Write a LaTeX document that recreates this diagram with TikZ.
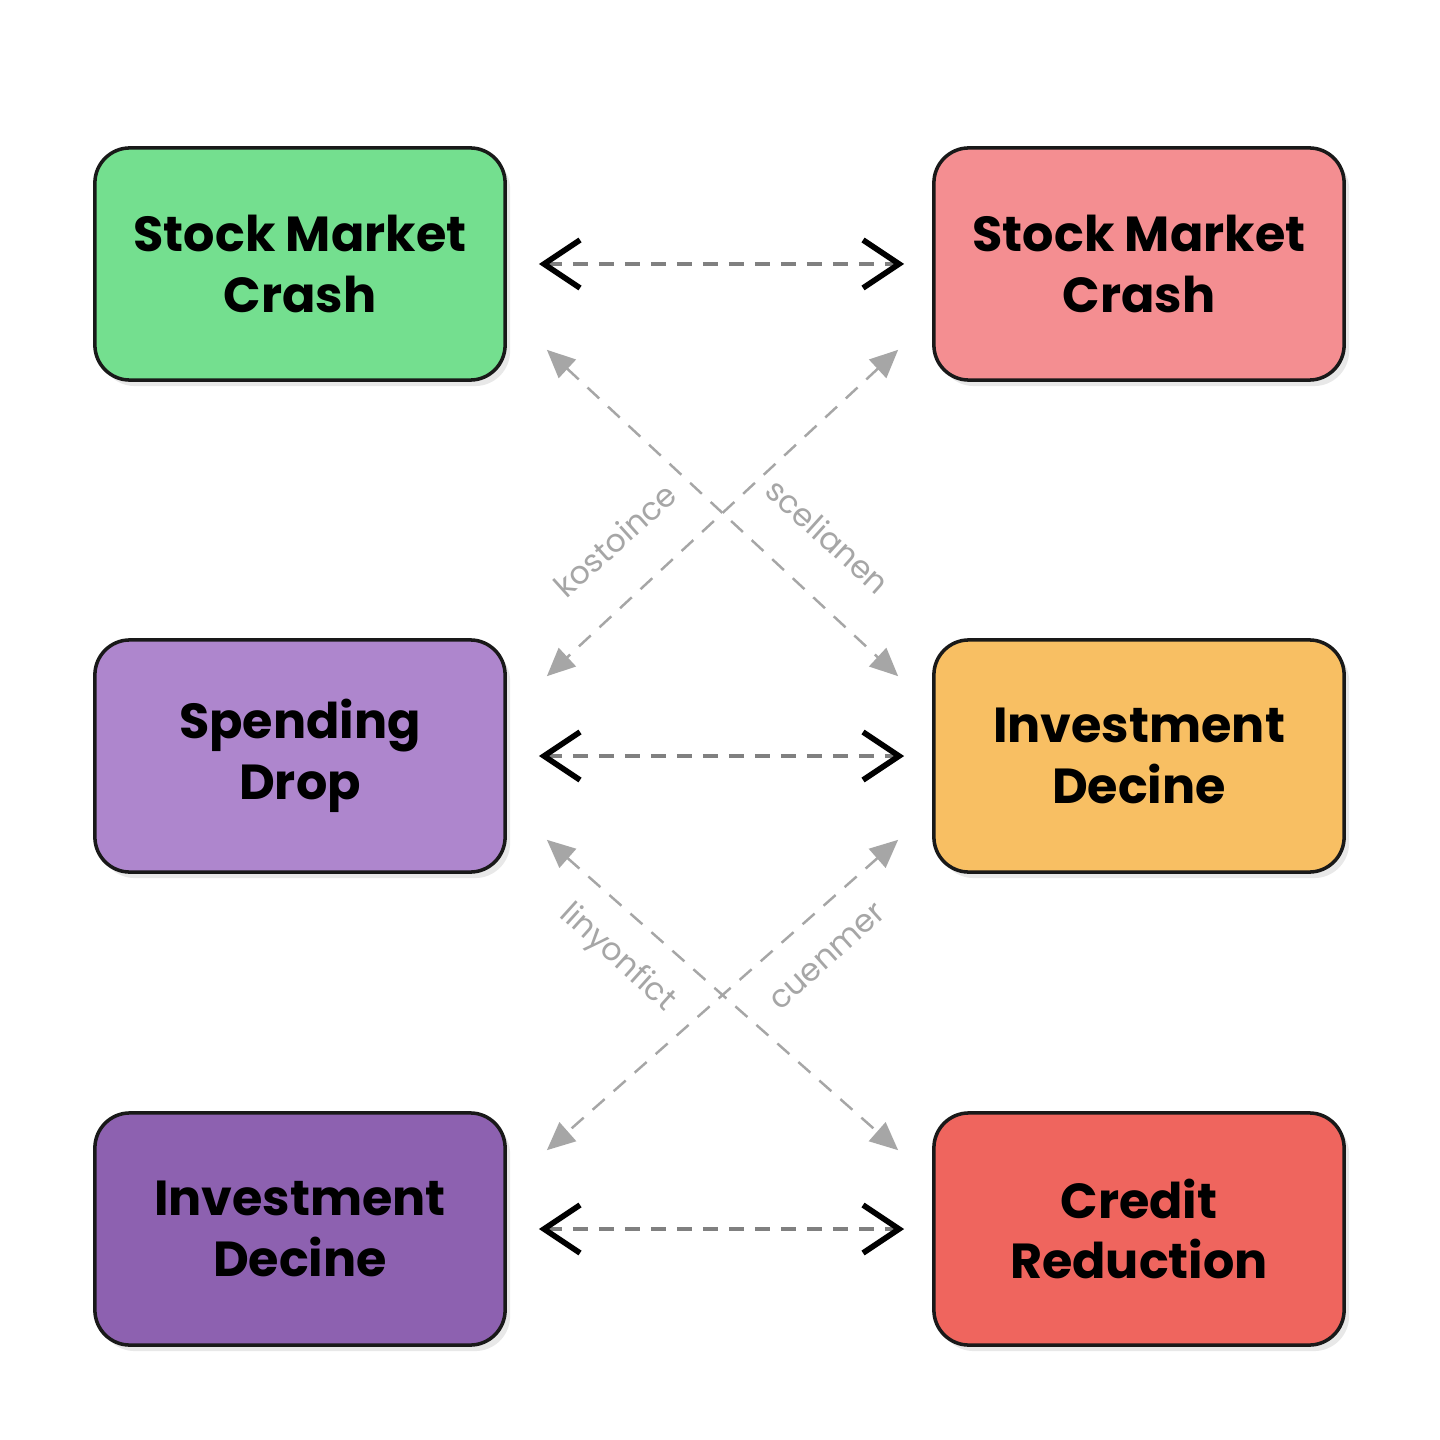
\documentclass[tikz,border=0pt]{standalone}
\usepackage{fontspec}
\setmainfont{Poppins}
\usetikzlibrary{arrows.meta,shadows}
\definecolor{boxgreen}{HTML}{74DF8F}
\definecolor{boxpink}{HTML}{F48E91}
\definecolor{boxlilac}{HTML}{AE86CD}
\definecolor{boxorange}{HTML}{F8BF63}
\definecolor{boxplum}{HTML}{8D61B0}
\definecolor{boxred}{HTML}{EF655E}
\definecolor{linkgray}{HTML}{A6A6A6}
\tikzset{
  effect/.style={draw=black!90,line width=1pt,rounded corners=0.35cm,
    minimum width=4.1cm,minimum height=2.32cm,align=center,
    font=\fontsize{14}{17.2}\selectfont\bfseries,
    drop shadow={opacity=0.18,shadow xshift=0.05cm,shadow yshift=-0.06cm}},
  mutual/.style={gray,line width=1.2pt,dash pattern=on 0.15cm off 0.11cm,
    {Straight Barb[length=0.36cm,width=0.48cm,line width=1.6pt,black]}-{Straight Barb[length=0.36cm,width=0.48cm,line width=1.6pt,black]},
    shorten <=0.32cm,shorten >=0.28cm},
  cross/.style={linkgray,line width=0.7pt,dash pattern=on 0.16cm off 0.12cm,
    {Triangle[length=0.28cm,width=0.25cm]}-{Triangle[length=0.28cm,width=0.25cm]}},
  hint/.style={linkgray,font=\fontsize{9}{11}\selectfont}
}
\begin{document}
\begin{tikzpicture}[x=0.01cm,y=-0.01cm]
\useasboundingbox[fill=white] (0,0) rectangle (1440,1440);
% boxes
\node[effect,fill=boxgreen]  (crashL)  at (300,264)  {Stock Market\\Crash};
\node[effect,fill=boxpink]   (crashR)  at (1139,264) {Stock Market\\Crash};
\node[effect,fill=boxlilac]  (spend)   at (300,756)  {Spending\\Drop};
\node[effect,fill=boxorange] (investR) at (1139,756) {Investment\\Decine};
\node[effect,fill=boxplum]   (investL) at (300,1229) {Investment\\Decine};
\node[effect,fill=boxred]    (credit)  at (1139,1229) {Credit\\Reduction};
% horizontal links
\draw[mutual] (crashL.east) -- (crashR.west);
\draw[mutual] (spend.east) -- (investR.west);
\draw[mutual] (investL.east) -- (credit.west);
% crossing links
\draw[cross] ([shift={(40,-32)}]crashL.south east) -- ([shift={(-34,38)}]investR.north west);
\draw[cross] ([shift={(-34,-32)}]crashR.south west) -- ([shift={(40,38)}]spend.north east);
\draw[cross] ([shift={(40,-34)}]spend.south east) -- ([shift={(-34,39)}]credit.north west);
\draw[cross] ([shift={(-34,-34)}]investR.south west) -- ([shift={(40,39)}]investL.north east);
% labels
\node[hint,rotate=42]  (kost) at (615,540) {kostoince};
\node[hint,rotate=-42] (scel) at (828,536) {scelianen};
\node[hint,rotate=-42] (liny) at (617,958) {linyonfict};
\node[hint,rotate=42]  (cuen) at (828,957) {cuenmer};
\end{tikzpicture}
\end{document}
